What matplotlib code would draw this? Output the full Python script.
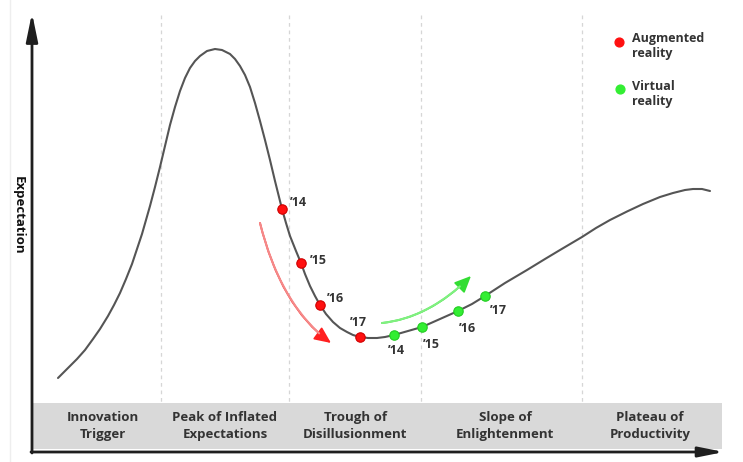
import matplotlib.pyplot as plt
from matplotlib.patches import FancyArrowPatch, Rectangle

# hype curve (pixel-like units, y grows downward)
curve_x = [58, 67, 77, 85, 93, 100, 108, 114, 120, 126, 132, 137, 142, 146, 150, 155, 160,
           165, 170, 175, 180, 185, 190, 195, 200, 207, 215, 222, 230, 235, 240, 245, 250,
           255, 260, 265, 270, 275, 282, 286, 290, 296, 301, 305, 310, 315, 320, 326, 333,
           340, 347, 353, 360, 368, 377, 385, 394, 408, 422, 440, 458, 472, 485, 505, 527,
           545, 560, 582, 596, 610, 627, 643, 660, 673, 685, 693, 702, 710]
curve_y = [378, 369, 359, 350, 339, 329, 316, 305, 293, 279, 264, 249, 234, 220, 206, 187, 167,
           146, 125, 107, 91, 78, 68, 61, 56, 51, 49, 50, 54, 59, 66, 75, 87,
           103, 121, 140, 160, 181, 209, 223, 236, 251, 263, 274, 286, 296, 305, 314, 322,
           328, 332, 335, 337, 338, 338, 337, 335, 331, 327, 319, 311, 304, 296, 283, 270,
           259, 250, 237, 228, 220, 211.5, 204, 197, 193, 190, 189, 189, 191]

phases = ["Innovation\nTrigger", "Peak of Inflated\nExpectations", "Trough of\nDisillusionment",
          "Slope of\nEnlightenment", "Plateau of\nProductivity"]
phase_x = [103, 225, 355, 505, 650]
phase_bounds = [161, 289, 421, 582]

years = ["\u201914", "\u201915", "\u201916", "\u201917"]
ar_x = [282, 301, 320, 360]
ar_y = [209, 263, 305, 337]
vr_x = [394, 422, 458, 485]
vr_y = [335, 327, 311, 296]

plt.rcParams['font.family'] = ['Open Sans', 'DejaVu Sans']
fig = plt.figure(figsize=(7.43, 4.62), dpi=100)
ax = fig.add_axes([0, 0, 1, 1])
ax.set_xlim(0, 743)
ax.set_ylim(462, 0)
ax.axis('off')

txt = '#333333'

# faint frame line on the left
ax.plot([10, 10], [0, 462], color='#eeeeee', lw=1)

# phase band
ax.add_patch(Rectangle((33, 403), 689, 46, facecolor='#d9d9d9', edgecolor='none', zorder=1))
for px, name in zip(phase_x, phases):
    ax.text(px, 426, name, ha='center', va='center', fontsize=9.5, fontweight='bold',
            color=txt, linespacing=1.35, zorder=3)

for b in phase_bounds:
    ax.plot([b, b], [15, 403], color='#d6d6d6', lw=0.9, ls=(0, (3, 3)), zorder=1)

# axes with arrows
ax.add_patch(FancyArrowPatch((32, 453), (32, 13), arrowstyle='-|>,head_length=17,head_width=3.5',
                             mutation_scale=1, color='#1e1e1e', lw=2, shrinkA=0, shrinkB=0, zorder=4))
ax.add_patch(FancyArrowPatch((31, 452), (724, 452), arrowstyle='-|>,head_length=15,head_width=3',
                             mutation_scale=1, color='#1e1e1e', lw=2, shrinkA=0, shrinkB=0, zorder=4))
ax.text(18, 215, "Expectation", rotation=270, ha='center', va='center', fontsize=9.5,
        fontweight='bold', color='#111111')

# the curve
ax.plot(curve_x, curve_y, color='#555555', lw=1.5, solid_joinstyle='round',
        solid_capstyle='round', zorder=2)

# trend arrows: coloured head, paler shaft
arrows = [((260, 223), (331, 343), 'angle3,angleA=-76,angleB=-36', '#ff2020', '#f48a8a'),
          ((382, 323), (471, 276), 'angle3,angleA=6,angleB=45', '#33dd33', '#80f080')]
for start, end, conn, head_c, shaft_c in arrows:
    ax.add_patch(FancyArrowPatch(start, end, connectionstyle=conn,
                                 arrowstyle='-|>,head_length=10,head_width=4.5', color=head_c,
                                 lw=1.3, mutation_scale=1, shrinkA=0, shrinkB=0, zorder=2))
    ax.add_patch(FancyArrowPatch(start, end, connectionstyle=conn, arrowstyle='-',
                                 color=shaft_c, lw=1.5, shrinkA=0, shrinkB=11, zorder=2))

# points
ax.scatter(ar_x, ar_y, s=46, color='#ff1010', edgecolor='#d00000', lw=0.8, zorder=5)
ax.scatter(vr_x, vr_y, s=46, color='#33ee33', edgecolor='#22cc22', lw=0.8, zorder=5)

ar_off = [(8, -6), (9, -3), (7, -6), (-10, -15)]
vr_off = [(-6, 15), (1, 18), (1, 17), (5, 15)]
for x, y, (dx, dy), lab in zip(ar_x, ar_y, ar_off, years):
    ax.text(x + dx, y + dy, lab, ha='left', va='center', fontsize=9, fontweight='bold', color=txt)
for x, y, (dx, dy), lab in zip(vr_x, vr_y, vr_off, years):
    ax.text(x + dx, y + dy, lab, ha='left', va='center', fontsize=9, fontweight='bold', color=txt)

# legend
ax.scatter([619], [42], s=40, color='#ff1010', zorder=5)
ax.scatter([620], [89], s=40, color='#33ee33', zorder=5)
ax.text(632, 46, "Augmented\nreality", ha='left', va='center', fontsize=9, fontweight='bold',
        color=txt, linespacing=1.2)
ax.text(632, 94, "Virtual\nreality", ha='left', va='center', fontsize=9, fontweight='bold',
        color=txt, linespacing=1.2)

fig.savefig("out.png", dpi=100)
